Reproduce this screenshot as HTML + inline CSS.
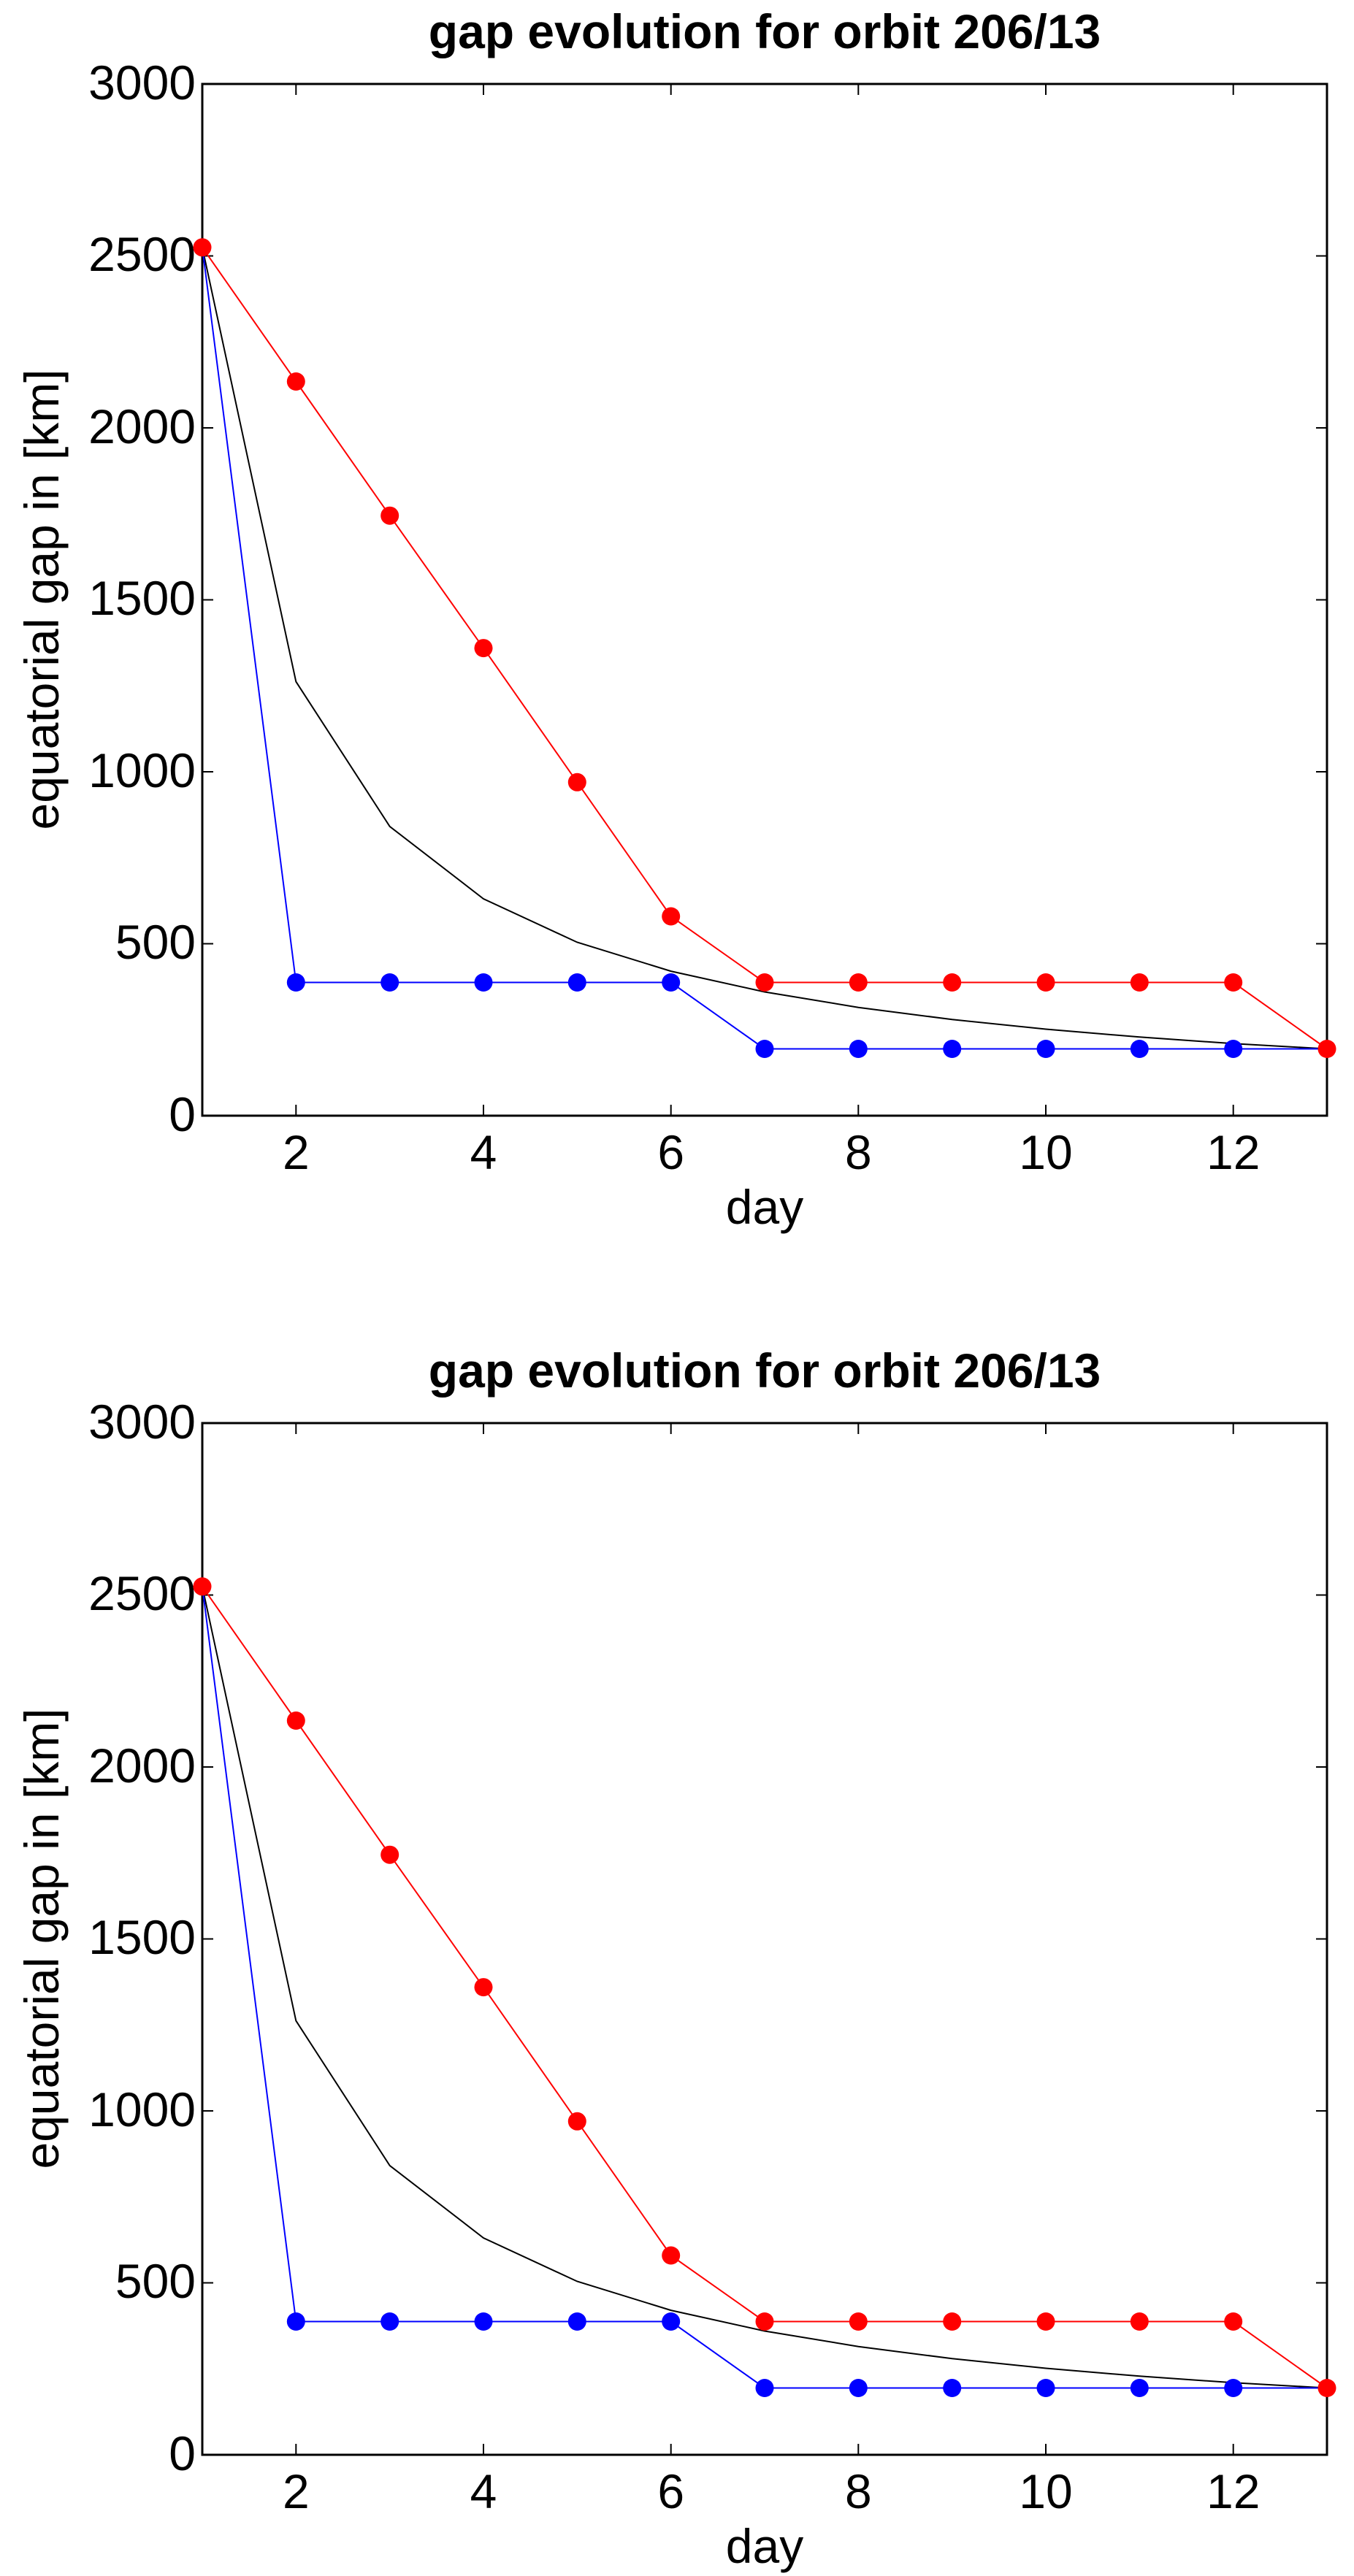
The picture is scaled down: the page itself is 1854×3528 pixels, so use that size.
<!DOCTYPE html>
<html><head><meta charset="utf-8"><style>
html,body{margin:0;padding:0;background:#fff;}
svg{display:block;}
text{font-family:"Liberation Sans",Arial,sans-serif;fill:#000;}
</style></head><body>
<svg width="1854" height="3528" viewBox="0 0 1854 3528" xmlns="http://www.w3.org/2000/svg">
<defs>
<g id="plot">
  <rect x="277" y="115" width="1540" height="1413" fill="none" stroke="#000" stroke-width="3"/>
  <g stroke="#000" stroke-width="2">
    <path d="M405.3,1528v-15M405.3,115v15M662,1528v-15M662,115v15M918.7,1528v-15M918.7,115v15M1175.3,1528v-15M1175.3,115v15M1432,1528v-15M1432,115v15M1688.7,1528v-15M1688.7,115v15"/>
    <path d="M277,1292.5h15M1817,1292.5h-15M277,1057h15M1817,1057h-15M277,821.5h15M1817,821.5h-15M277,586h15M1817,586h-15M277,350.5h15M1817,350.5h-15"/>
  </g>
  <g font-size="66" text-anchor="middle">
    <text x="405.3" y="1601">2</text>
    <text x="662" y="1601">4</text>
    <text x="918.7" y="1601">6</text>
    <text x="1175.3" y="1601">8</text>
    <text x="1432" y="1601">10</text>
    <text x="1688.7" y="1601">12</text>
  </g>
  <g font-size="66" text-anchor="end">
    <text x="268" y="1549">0</text>
    <text x="268" y="1313">500</text>
    <text x="268" y="1078">1000</text>
    <text x="268" y="842">1500</text>
    <text x="268" y="607">2000</text>
    <text x="268" y="371">2500</text>
    <text x="268" y="136">3000</text>
  </g>
  <text x="1047" y="1676" font-size="66" text-anchor="middle">day</text>
  <text transform="translate(80,821) rotate(-90)" font-size="66" text-anchor="middle">equatorial gap in [km]</text>
  <text x="1047" y="66" font-size="66" font-weight="bold" text-anchor="middle">gap evolution for orbit 206/13</text>
  <polyline fill="none" stroke="#000" stroke-width="2" points="277,338.8 405.3,933.6 533.7,1131.9 662,1231.0 790.3,1290.5 918.7,1330.1 1047,1358.5 1175.3,1379.7 1303.7,1396.3 1432,1409.5 1560.3,1420.3 1688.7,1429.3 1817,1436.5"/>
  <polyline fill="none" stroke="#0000ff" stroke-width="2" points="277,338.8 405.3,1345.5 533.7,1345.5 662,1345.5 790.3,1345.5 918.7,1345.5 1047,1436.5 1175.3,1436.5 1303.7,1436.5 1432,1436.5 1560.3,1436.5 1688.7,1436.5 1817,1436.5"/>
  <g fill="#0000ff">
    <circle cx="405.3" cy="1345.5" r="12.5"/><circle cx="533.7" cy="1345.5" r="12.5"/><circle cx="662" cy="1345.5" r="12.5"/><circle cx="790.3" cy="1345.5" r="12.5"/><circle cx="918.7" cy="1345.5" r="12.5"/>
    <circle cx="1047" cy="1436.5" r="12.5"/><circle cx="1175.3" cy="1436.5" r="12.5"/><circle cx="1303.7" cy="1436.5" r="12.5"/><circle cx="1432" cy="1436.5" r="12.5"/><circle cx="1560.3" cy="1436.5" r="12.5"/><circle cx="1688.7" cy="1436.5" r="12.5"/>
  </g>
  <polyline fill="none" stroke="#ff0000" stroke-width="2" points="277,338.8 405.3,522.5 533.7,706.2 662,887.6 790.3,1071.3 918.7,1255.0 1047,1345.5 1175.3,1345.5 1303.7,1345.5 1432,1345.5 1560.3,1345.5 1688.7,1345.5 1817,1436.5"/>
  <g fill="#ff0000">
    <circle cx="277" cy="338.8" r="12.5"/><circle cx="405.3" cy="522.5" r="12.5"/><circle cx="533.7" cy="706.2" r="12.5"/><circle cx="662" cy="887.6" r="12.5"/><circle cx="790.3" cy="1071.3" r="12.5"/><circle cx="918.7" cy="1255.0" r="12.5"/>
    <circle cx="1047" cy="1345.5" r="12.5"/><circle cx="1175.3" cy="1345.5" r="12.5"/><circle cx="1303.7" cy="1345.5" r="12.5"/><circle cx="1432" cy="1345.5" r="12.5"/><circle cx="1560.3" cy="1345.5" r="12.5"/><circle cx="1688.7" cy="1345.5" r="12.5"/><circle cx="1817" cy="1436.5" r="12.5"/>
  </g>
</g>
</defs>
<rect width="1854" height="3528" fill="#fff"/>
<use href="#plot"/>
<use href="#plot" transform="translate(0,1834)"/>
</svg>
</body></html>
